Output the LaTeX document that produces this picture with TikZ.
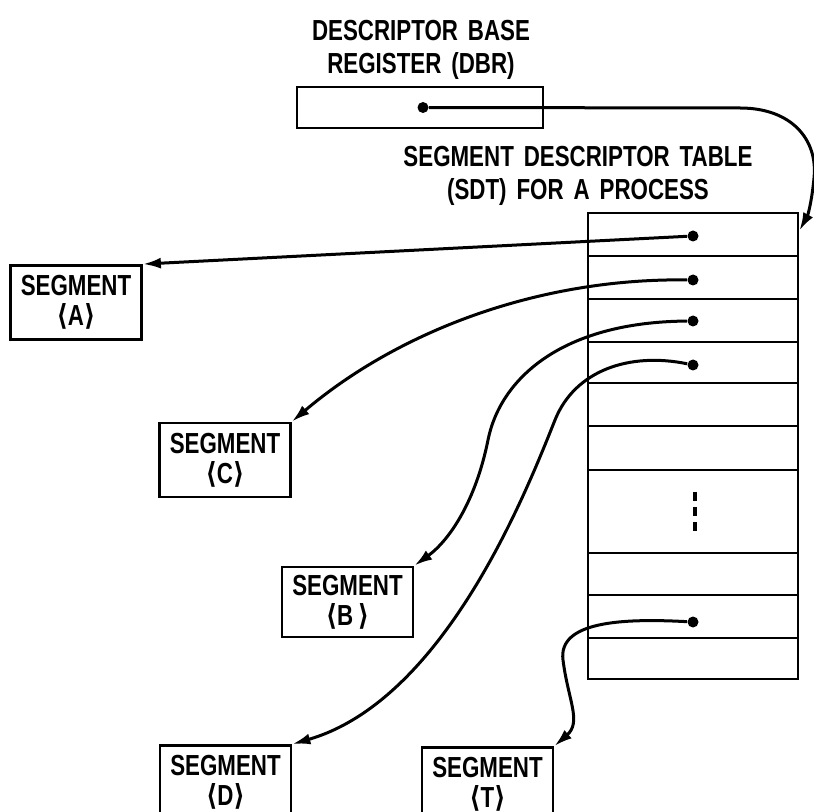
\documentclass[tikz,border=0pt]{standalone}
\usepackage{fontspec}
\setmainfont{Liberation Sans}[FakeStretch=0.77, WordSpace=1.6]
\newfontfamily\brkfont{DejaVu Sans}[FakeStretch=0.85]
\usetikzlibrary{arrows.meta}
\newcommand{\segtext}[1]{SEGMENT\\{\brkfont\bfseries ⟨}#1{\brkfont\bfseries ⟩}}

\begin{document}
\begin{tikzpicture}[x=0.5pt, y=-0.5pt,
  font=\bfseries\fontsize{14.5}{15}\selectfont,
  segbox/.style={draw, line width=1.4pt, inner sep=0pt, align=center,
                 minimum width=65.5pt, minimum height=37pt},
  titletext/.style={inner sep=0pt, align=center, anchor=north,
                    font=\bfseries\fontsize{14.5}{16.5}\selectfont},
  tablebox/.style={draw, line width=1.4pt, inner sep=0pt,
                   minimum width=105pt, minimum height=233pt},
  ptrdot/.style={circle, fill, inner sep=0pt, minimum size=5.5pt},
  ptr/.style={-{Latex[length=9pt,width=5.5pt]}, line width=1.5pt},
]
  \useasboundingbox (0,0) rectangle (814,812);
  % Register
  \node[titletext] (dbrlabel) at (421,20) {DESCRIPTOR BASE\\REGISTER (DBR)};
  \node[draw, line width=1.2pt, inner sep=0pt, minimum width=123pt,
        minimum height=20.5pt] (dbr) at (420,107.5) {};
  \node[ptrdot] (dR) at ([xshift=1.5pt]dbr.center) {};
  % Descriptor table
  \node[titletext] (sdtlabel) at (578,146) {SEGMENT DESCRIPTOR TABLE\\(SDT) FOR A PROCESS};
  \node[tablebox] (sdt) at (693,446) {};
  \foreach \y in {256,299,342,383,426,470,553,595,638}
    \draw[line width=1.3pt] (588,\y) -- (798,\y);
  \draw[line width=1.7pt, dash pattern=on 4.5pt off 3pt] (695,492) -- (695,533);
  \node[ptrdot] (dA) at (693,236) {};
  \node[ptrdot] (dC) at (693,280) {};
  \node[ptrdot] (dB) at (693,321) {};
  \node[ptrdot] (dD) at (693,365) {};
  \node[ptrdot] (dT) at (693,622) {};
  % Segments
  \node[segbox] (segA) at (76,302.5) {\segtext{A}};
  \node[segbox] (segC) at (225,460) {\segtext{C}};
  \node[segbox, minimum height=35pt] (segB) at (347.5,602) {\segtext{B\,}};
  \node[segbox] (segD) at (225.5,782.5) {\segtext{D}};
  \node[segbox] (segT) at (487.5,784.5) {\segtext{T}};
  % Pointers
  \draw[ptr] (dR) -- (740,108) .. controls (792,108) and (818,140) .. (814,178)
    .. controls (812,200) and (808,215) .. ([yshift=-9.5pt]sdt.north east);
  \draw[ptr] (dA) -- (segA.north east);
  \draw[ptr] (dC) .. controls (540,278) and (400,330) .. (segC.north east);
  \draw[ptr] (dB) .. controls (560,322) and (500,380) .. (488,440)
    .. controls (476,500) and (450,540) .. (segB.north east);
  \draw[ptr] (dD) .. controls (630,352) and (575,370) .. (555,420)
    .. controls (527,490) and (445,700) .. (segD.north east);
  \draw[ptr] (dT) .. controls (620,618) and (558,622) .. (563,660)
    .. controls (568,700) and (582,722) .. (segT.north east);
\end{tikzpicture}
\end{document}
